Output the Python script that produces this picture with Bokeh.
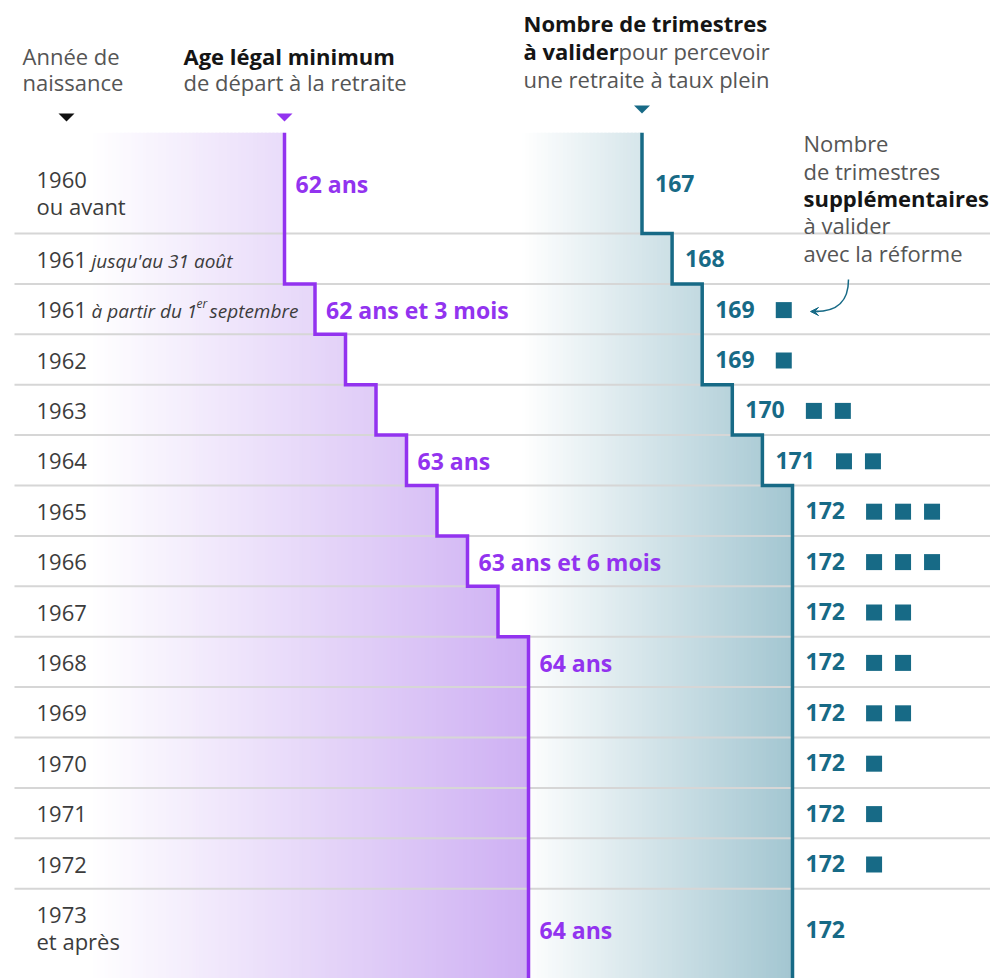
import numpy as np
from bokeh.plotting import figure
from bokeh.models import Range1d, ColumnDataSource, Arrow, VeeHead
from bokeh.core.properties import value
from bokeh.embed import file_html
from bokeh.resources import INLINE

# ---------------- data ----------------
birth_years = ["1960", "1961", "1961", "1962", "1963", "1964", "1965", "1966",
               "1967", "1968", "1969", "1970", "1971", "1972", "1973"]
birth_notes = ["ou avant", "jusqu'au 31 août", "à partir du 1er septembre", "", "", "", "", "",
               "", "", "", "", "", "", "et après"]
min_age = [62, 62, 62.25, 62.5, 62.75, 63, 63.25, 63.5, 63.75, 64, 64, 64, 64, 64, 64]
age_labels = ["62 ans", "", "62 ans et 3 mois", "", "", "63 ans", "", "63 ans et 6 mois",
              "", "64 ans", "", "", "", "", "64 ans"]
quarters = [167, 168, 169, 169, 170, 171, 172, 172, 172, 172, 172, 172, 172, 172, 172]
extra_quarters = [0, 0, 1, 1, 2, 2, 3, 3, 2, 2, 2, 1, 1, 1, 0]

# ---------------- layout / style ----------------
FONT = value("Open Sans")
PURPLE = "#9233ef"
TEAL = "#176a86"
GRID = "#d6d6d6"
TXT = "#3c3c3c"
HEAD_GRAY = "#555555"
HEAD_DARK = "#151515"

W, H = 990, 978
WX0, WY0 = 0, 0                     # window offset of the plot
ROW_TOP, ROW_H = 132.2, 50.4        # px
AGE_X62, AGE_PX = 284.0, 122.0      # px of 62 ans, px per year
TRIM_X167, TRIM_PX = 641.5, 30.1    # px of 167 trimestres, px per trimestre

p = figure(width=W, height=H, output_backend="svg", toolbar_location=None,
           x_range=Range1d(WX0, WX0 + W), y_range=Range1d(WY0 + H, WY0),
           x_axis_type=None, y_axis_type=None, min_border=0,
           outline_line_color=None, background_fill_color="white",
           border_fill_color="white")
p.grid.visible = False
p.extra_x_ranges = {
    "age": Range1d(62 + (WX0 - AGE_X62) / AGE_PX, 62 + (WX0 + W - AGE_X62) / AGE_PX),
    "trim": Range1d(167 + (WX0 - TRIM_X167) / TRIM_PX, 167 + (WX0 + W - TRIM_X167) / TRIM_PX),
}
p.extra_y_ranges = {
    "rows": Range1d((WY0 + H - ROW_TOP) / ROW_H, (WY0 - ROW_TOP) / ROW_H),
}

n = len(birth_years)
tops = [0.0] + [k + 1.0 for k in range(1, n)]
bots = [2.0] + [k + 2.0 for k in range(1, n - 1)] + [17.5]
centers = [1.0] + [k + 1.5 for k in range(1, n - 1)] + [15.8]


def mix(c0, c1, t):
    t = float(min(max(t, 0.0), 1.0))
    return "#%02x%02x%02x" % tuple(int(round(a + (b - a) * t)) for a, b in zip(c0, c1))


WHITE = (255, 255, 255)

# ---- teal gradient (drawn first) ----
T_START, T_END, T_STEP = 163.0, 172.0, 0.125
T_COL = (163, 198, 209)
tl, tr, tt, tb, tc = [], [], [], [], []
for r in range(n):
    lefts = np.arange(T_START, quarters[r], T_STEP)
    for lft in lefts:
        tl.append(lft)
        tr.append(min(lft + T_STEP * 1.6, quarters[r]))
        tt.append(tops[r]); tb.append(bots[r])
        tc.append(mix(WHITE, T_COL, (lft + T_STEP / 2 - T_START) / (T_END - T_START)))
p.quad(left="l", right="r", top="t", bottom="b", fill_color="c", line_color=None,
       source=ColumnDataSource(dict(l=tl, r=tr, t=tt, b=tb, c=tc)),
       x_range_name="trim", y_range_name="rows")

# ---- purple gradient ----
P_START, P_END, P_STEP = 60.4, 64.0, 1 / 32
P_COL = (206, 176, 243)
pl, pr, pt, pb, pc = [], [], [], [], []
for r in range(n):
    lefts = np.arange(P_START, min_age[r], P_STEP)
    for lft in lefts:
        pl.append(lft)
        pr.append(min(lft + P_STEP * 1.6, min_age[r]))
        pt.append(tops[r]); pb.append(bots[r])
        pc.append(mix(WHITE, P_COL, (lft + P_STEP / 2 - P_START) / (P_END - P_START)))
p.quad(left="l", right="r", top="t", bottom="b", fill_color="c", line_color=None,
       source=ColumnDataSource(dict(l=pl, r=pr, t=pt, b=pb, c=pc)),
       x_range_name="age", y_range_name="rows")

# ---- row separators ----
seps = bots[:-1]
p.segment(x0=[14] * len(seps), x1=[WX0 + W] * len(seps), y0=seps, y1=seps,
          line_color=GRID, line_width=2, y_range_name="rows")

# ---- step lines ----
def step_xy(vals):
    xs, ys = [], []
    for r in range(n):
        xs += [vals[r], vals[r]]
        ys += [tops[r], bots[r]]
    return xs, ys

ax, ay = step_xy(min_age)
p.line(ax, ay, line_color=PURPLE, line_width=3.5, line_join="miter",
       x_range_name="age", y_range_name="rows")
qx, qy = step_xy(quarters)
p.line(qx, qy, line_color=TEAL, line_width=3.5, line_join="miter",
       x_range_name="trim", y_range_name="rows")

# ---- row labels ----
single = [r for r in range(n) if r not in (0, n - 1)]
p.text(x=[36] * len(single), y=[centers[r] for r in single],
       text=[birth_years[r] for r in single], y_offset=1,
       text_font=FONT, text_font_size="22px", text_color=TXT,
       text_baseline="alphabetic", y_range_name="rows")
# two-line labels (first and last rows)
p.text(x=[36, 36], y=[centers[0], centers[n - 1]], text=[birth_years[0], birth_years[n - 1]],
       y_offset=[-3, -14], text_font=FONT, text_font_size="22px", text_color=TXT,
       text_baseline="alphabetic", y_range_name="rows")
p.text(x=[36, 36], y=[centers[0], centers[n - 1]], text=[birth_notes[0], birth_notes[n - 1]],
       y_offset=[23, 12], text_font=FONT, text_font_size="22px", text_color=TXT,
       text_baseline="alphabetic", y_range_name="rows")
# italic notes of 1961
note2 = birth_notes[2].split("er ")
p.text(x=[91, 91], y=[centers[1], centers[2]], text=[birth_notes[1], note2[0]],
       y_offset=2, text_font=FONT, text_font_size="19px", text_font_style="italic",
       text_color=TXT, text_baseline="alphabetic", y_range_name="rows")
p.text(x=[196], y=[centers[2]], text=["er"], y_offset=-6,
       text_font=FONT, text_font_size="12px", text_font_style="italic",
       text_color=TXT, text_baseline="alphabetic", y_range_name="rows")
p.text(x=[209], y=[centers[2]], text=[note2[1]], y_offset=2,
       text_font=FONT, text_font_size="19px", text_font_style="italic",
       text_color=TXT, text_baseline="alphabetic", y_range_name="rows")

# ---- age labels ----
ai = [r for r in range(n) if age_labels[r]]
p.text(x=[min_age[r] for r in ai], y=[centers[r] for r in ai],
       text=[age_labels[r] for r in ai], x_offset=11, y_offset=1,
       text_font=FONT, text_font_size="23px", text_font_style="bold",
       text_color=PURPLE, text_baseline="alphabetic",
       x_range_name="age", y_range_name="rows")

# ---- quarters labels ----
p.text(x=quarters, y=centers, text=[str(q) for q in quarters], x_offset=13, y_offset=0,
       text_font=FONT, text_font_size="23px", text_font_style="bold",
       text_color=TEAL, text_baseline="alphabetic",
       x_range_name="trim", y_range_name="rows")

# ---- extra quarters squares ----
sx, sy = [], []
for r in range(n):
    for k in range(extra_quarters[r]):
        sx.append(quarters[r] + 2.71 + k * 0.963)
        sy.append(centers[r] + 1 / ROW_H)
p.scatter(sx, sy, marker="square", size=16, fill_color=TEAL, line_color=None,
          x_range_name="trim", y_range_name="rows")

# ---- header triangles ----
def tri(cx, cy, half_w_units):
    return dict(xs=[[cx - half_w_units, cx + half_w_units, cx]], ys=[[cy - 4, cy - 4, cy + 4]])

t0 = tri(66, 117, 8)
p.patches(t0["xs"], t0["ys"], fill_color="#111111", line_color=None)
t1 = tri(min_age[0], 117, 8 / AGE_PX)
p.patches(t1["xs"], t1["ys"], fill_color=PURPLE, line_color=None, x_range_name="age")
t2 = tri(quarters[0], 109, 8 / TRIM_PX)
p.patches(t2["xs"], t2["ys"], fill_color=TEAL, line_color=None, x_range_name="trim")

# ---- headers ----
def txt(x, y, s, color=HEAD_GRAY, bold=False, size="22px"):
    p.text(x=[x], y=[y], text=[s], text_font=FONT, text_font_size=size,
           text_font_style="bold" if bold else "normal", text_color=color,
           text_baseline="alphabetic")

txt(22, 55, "Année de")
txt(22, 81, "naissance")
txt(183, 55, "Age légal minimum", HEAD_DARK, True)
txt(183, 81, "de départ à la retraite")
txt(523, 22, "Nombre de trimestres", HEAD_DARK, True)
txt(523, 50, "à valider", HEAD_DARK, True)
txt(618, 50, "pour percevoir")
txt(523, 78, "une retraite à taux plein")

txt(803, 142, "Nombre")
txt(803, 170, "de trimestres")
txt(803, 197, "supplémentaires", HEAD_DARK, True)
txt(803, 224, "à valider")
txt(803, 252, "avec la réforme")

# ---- curved arrow to the first square ----
p.bezier(x0=[848], y0=[279], x1=[815], y1=[311], cx0=[848], cy0=[302], cx1=[836], cy1=[311],
         line_color=TEAL, line_width=1.5)
p.add_layout(Arrow(end=VeeHead(size=8, fill_color=TEAL, line_color=TEAL),
                   x_start=818, y_start=311, x_end=810, y_end=311,
                   line_color=TEAL, line_width=1.5))

open("out.html", "w").write(file_html(p, INLINE))
